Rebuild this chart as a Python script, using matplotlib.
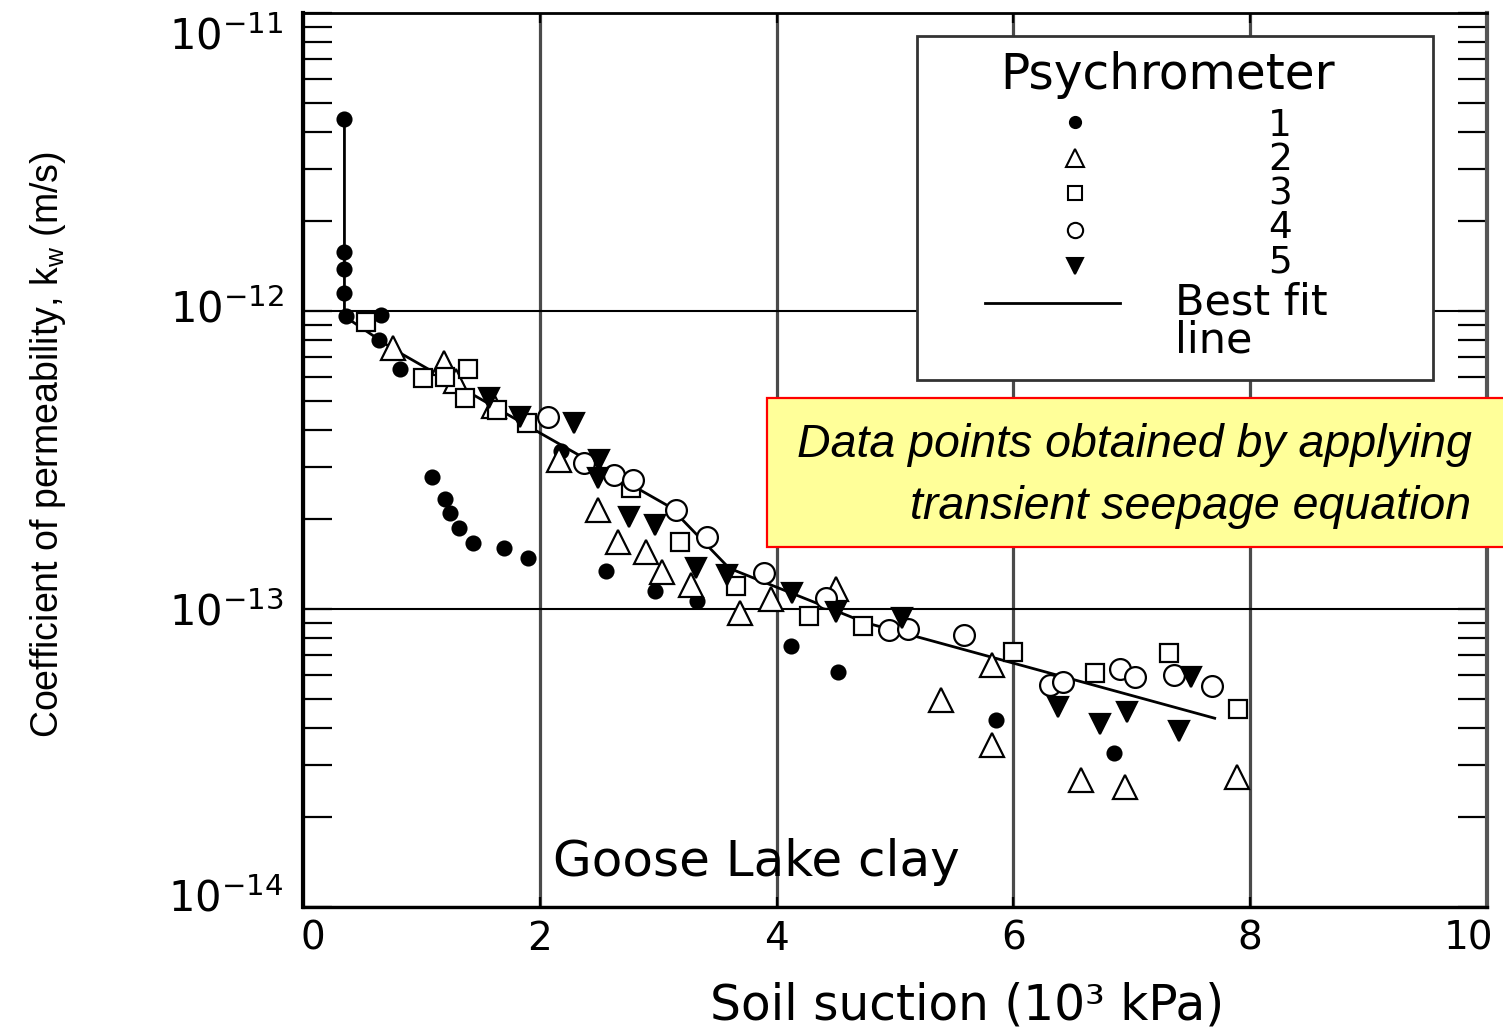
import matplotlib
matplotlib.use('Agg')
import matplotlib.pyplot as plt
from matplotlib import font_manager
from matplotlib.patches import Rectangle
from matplotlib.transforms import ScaledTranslation
from matplotlib.ticker import LogFormatterMathtext, NullLocator, FixedLocator

# ---------------- data ----------------
s1_x = [0.35, 0.35, 0.35, 0.35, 0.36, 0.66, 0.64, 0.82, 1.09, 1.20, 1.24, 1.32, 1.44,
        1.70, 1.90, 2.18, 2.56, 2.97, 3.33, 4.12, 4.52, 5.85, 6.85]
s1_y = [4.4e-12, 1.58e-12, 1.38e-12, 1.15e-12, 9.6e-13, 9.7e-13, 8.0e-13, 6.4e-13, 2.77e-13,
        2.34e-13, 2.1e-13, 1.87e-13, 1.66e-13, 1.6e-13, 1.48e-13, 3.4e-13, 1.34e-13, 1.15e-13,
        1.06e-13, 7.5e-14, 6.15e-14, 4.24e-14, 3.29e-14]

s2_x = [0.76, 1.19, 1.29, 1.61, 2.16, 2.49, 2.66, 2.90, 3.03, 3.28, 3.69, 3.95, 4.50,
        5.39, 5.82, 5.82, 6.57, 6.94, 7.89]
s2_y = [7.5e-13, 6.7e-13, 5.8e-13, 4.8e-13, 3.16e-13, 2.15e-13, 1.68e-13, 1.55e-13, 1.33e-13,
        1.2e-13, 9.7e-14, 1.08e-13, 1.17e-13, 4.95e-14, 6.5e-14, 3.5e-14, 2.67e-14, 2.53e-14,
        2.73e-14]

s3_x = [0.53, 1.01, 1.20, 1.39, 1.37, 1.64, 1.89, 2.77, 3.18, 3.66, 4.27, 4.73, 6.00,
        6.69, 7.31, 7.90]
s3_y = [9.2e-13, 5.96e-13, 6.0e-13, 6.4e-13, 5.1e-13, 4.65e-13, 4.2e-13, 2.55e-13, 1.68e-13,
        1.19e-13, 9.5e-14, 8.8e-14, 7.2e-14, 6.1e-14, 7.1e-14, 4.6e-14]

s4_x = [2.07, 2.37, 2.63, 2.79, 3.15, 3.41, 3.89, 4.42, 4.95, 5.11, 5.58, 6.31, 6.42,
        6.90, 7.03, 7.36, 7.68]
s4_y = [4.4e-13, 3.1e-13, 2.82e-13, 2.71e-13, 2.15e-13, 1.75e-13, 1.32e-13, 1.09e-13, 8.5e-14,
        8.6e-14, 8.2e-14, 5.56e-14, 5.7e-14, 6.3e-14, 5.9e-14, 6.0e-14, 5.5e-14]

s5_x = [1.57, 1.83, 2.29, 2.50, 2.49, 2.75, 2.97, 3.32, 3.58, 4.13, 4.50, 5.06, 6.38,
        6.73, 6.96, 7.40, 7.50]
s5_y = [5.1e-13, 4.4e-13, 4.2e-13, 3.16e-13, 2.75e-13, 2.04e-13, 1.91e-13, 1.37e-13, 1.3e-13,
        1.13e-13, 9.8e-14, 9.3e-14, 4.7e-14, 4.1e-14, 4.5e-14, 3.9e-14, 5.9e-14]

fit_x = [0.35, 0.35, 0.75, 1.45, 2.0, 3.1, 3.6, 4.75, 7.7]
fit_y = [4.4e-12, 9.6e-13, 7.5e-13, 5.2e-13, 3.9e-13, 2.2e-13, 1.37e-13, 9.0e-14, 4.3e-14]

legend_labels = ['1', '2', '3', '4', '5']
x_ticks = [0, 2, 4, 6, 8, 10]
y_ticks = [1e-14, 1e-13, 1e-12, 1e-11]

# ---------------- fonts ----------------
names = {f.name for f in font_manager.fontManager.ttflist}
narrow = 'Liberation Sans Narrow' in names
cond_family = ['Liberation Sans Narrow', 'Liberation Sans', 'DejaVu Sans'] if narrow else ['Liberation Sans', 'DejaVu Sans']
ylab_size = 32 if narrow else 27
box_size = 40 if narrow else 33.5

plt.rcParams['font.family'] = ['DejaVu Sans']
plt.rcParams['mathtext.fontset'] = 'dejavusans'

# ---------------- figure ----------------
fig = plt.figure(figsize=(15.03, 10.27), dpi=100)
ax = fig.add_axes([303 / 1503, 1 - 907 / 1027, 1184 / 1503, 894 / 1027])
ax.set_yscale('log')
ax.set_xlim(0, 10)
ax.set_ylim(1e-14, 1e-11)

ax.xaxis.set_major_locator(FixedLocator(x_ticks))
ax.xaxis.set_minor_locator(NullLocator())
ax.set_xticklabels([str(v) for v in x_ticks])
ax.yaxis.set_major_locator(FixedLocator(y_ticks))
ax.yaxis.set_major_formatter(LogFormatterMathtext())

ax.grid(axis='x', which='major', color='#4a4a4a', lw=2.3, zorder=1)
ax.grid(axis='y', which='major', color='black', lw=1.5, zorder=1)
ax.set_axisbelow(True)

ax.tick_params(axis='y', which='both', direction='in', left=True, right=True,
               length=21, width=1.6, labelsize=30, pad=14)
ax.tick_params(axis='x', which='major', direction='in', top=True, bottom=True,
               length=7, width=1.6, labelsize=28, pad=9)
for side, lw in [('left', 3.0), ('right', 3.0), ('top', 2.0), ('bottom', 2.4)]:
    ax.spines[side].set_linewidth(lw)
ax.spines['right'].set_color('#555555')

# nudge the y tick labels like the reference (top one sits below the frame edge)
ylabel_shift_px = [12, 0, 5, -20]
for tick, dy in zip(ax.yaxis.get_major_ticks(), ylabel_shift_px):
    tick.label1.set_transform(tick.label1.get_transform()
                              + ScaledTranslation(0, dy / 100, fig.dpi_scale_trans))
# keep the last x tick label ("10") inside the picture
xlabel_shift_px = [10, 0, 0, 0, 0, -18]
for tick, dx in zip(ax.xaxis.get_major_ticks(), xlabel_shift_px):
    tick.label1.set_transform(tick.label1.get_transform()
                              + ScaledTranslation(dx / 100, 0, fig.dpi_scale_trans))

# best-fit line and data
ax.plot(fit_x, fit_y, color='black', lw=2.0, zorder=3)
mstyle = dict(ls='none', mec='black', mew=1.6, zorder=4)
ax.plot(s1_x, s1_y, marker='o', ms=10, mfc='black', **mstyle)
ax.plot(s2_x, s2_y, marker='^', ms=17, mfc='white', **mstyle)
ax.plot(s3_x, s3_y, marker='s', ms=13, mfc='white', **mstyle)
ax.plot(s4_x, s4_y, marker='o', ms=15, mfc='white', **mstyle)
ax.plot(s5_x, s5_y, marker='v', ms=15, mfc='black', **mstyle)

# ---------------- legend (drawn as a framed block) ----------------
ax.add_patch(Rectangle((0.519, 0.5895), 0.435, 0.3845, transform=ax.transAxes,
                       facecolor='white', edgecolor='#333333', lw=2.0, zorder=6))
ax.text(0.7306, 0.9306, 'Psychrometer', transform=ax.transAxes, ha='center', va='center',
        fontsize=35, zorder=7)
key_y = [0.878, 0.838, 0.799, 0.757, 0.717]
key_style = [dict(marker='o', ms=8, mfc='black'),
             dict(marker='^', ms=13, mfc='white'),
             dict(marker='s', ms=10, mfc='white'),
             dict(marker='o', ms=11, mfc='white'),
             dict(marker='v', ms=12, mfc='black')]
for yy, st in zip(key_y, key_style):
    ax.plot([0.652], [yy], transform=ax.transAxes, ls='none', mec='black', mew=1.5,
            zorder=7, clip_on=False, **st)
ax.text(0.825, 0.7975, '\n'.join(legend_labels), transform=ax.transAxes, ha='center',
        va='center', multialignment='center', fontsize=27, linespacing=0.93, zorder=7)
ax.plot([0.576, 0.690], [0.6756, 0.6756], transform=ax.transAxes, color='black',
        lw=2.0, zorder=7)
ax.text(0.7365, 0.655, 'Best fit\nline', transform=ax.transAxes, ha='left', va='center',
        fontsize=31, linespacing=0.87, zorder=7)

# in-plot label
ax.text(0.3826, 0.0503, 'Goose Lake clay', transform=ax.transAxes, ha='center',
        va='center', fontsize=36, zorder=5)

# axis titles
fig.text(0.032, 0.567, r'Coefficient of permeability, k$_\mathregular{w}$ (m/s)',
         rotation=90, ha='center', va='center', fontsize=ylab_size, family=cond_family)
fig.text(0.6434, 0.0214, 'Soil suction (10³ kPa)', ha='center', va='center', fontsize=35)

# yellow annotation box (runs off the right edge like the reference)
fig.patches.append(Rectangle((0.5103, 0.4674), 0.55, 0.1451, transform=fig.transFigure,
                             facecolor='#FFFF99', edgecolor='red', lw=1.6, zorder=10))
fig.text(0.530, 0.5667, 'Data points obtained by applying', ha='left', va='center',
         fontsize=box_size, style='italic', family=cond_family, zorder=11)
fig.text(0.6055, 0.5063, 'transient seepage equation', ha='left', va='center',
         fontsize=box_size, style='italic', family=cond_family, zorder=11)

fig.savefig('out.png', dpi=100)
